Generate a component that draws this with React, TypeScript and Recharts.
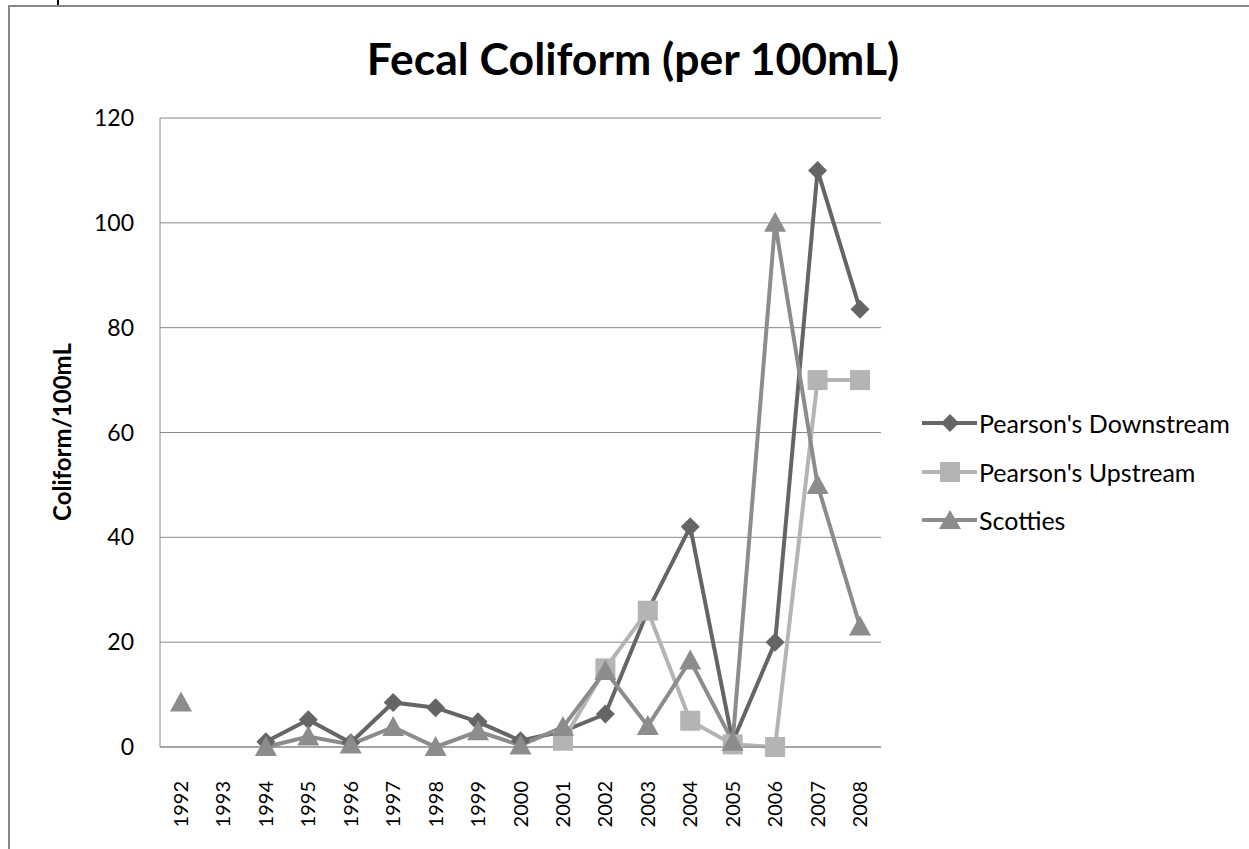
import React from "react";
import { LineChart, Line, XAxis, YAxis, CartesianGrid } from "recharts";

const years = ["1992","1993","1994","1995","1996","1997","1998","1999","2000","2001","2002","2003","2004","2005","2006","2007","2008"];
const downstream: (number | null)[] = [null, null, 1, 5.2, 0.8, 8.5, 7.5, 4.8, 1.2, 3, 6.3, 26, 42, 1, 20, 110, 83.5];
const upstream: (number | null)[] = [null, null, null, null, null, null, null, null, null, 1.2, 15, 26, 5, 0.5, 0, 70, 70];
const scotties: (number | null)[] = [8.5, null, 0, 2, 0.5, 3.8, 0, 3, 0.3, 3.8, 14.5, 4, 16.5, 1, 100, 50, 23];
const yTicks = [0, 20, 40, 60, 80, 100, 120];

const data = years.map((y, i) => ({
  year: y,
  down: downstream[i],
  up: upstream[i],
  scot: scotties[i],
}));

const C_DOWN = "#656565";
const C_UP = "#b4b4b4";
const C_SCOT = "#8c8c8c";
const FONT = "Lato, 'Open Sans', sans-serif";

const Diamond = (p: any) => {
  const { cx, cy, index } = p;
  if (cx == null || cy == null || p.value == null) return <g key={`d${index}`} />;
  const r = 9.5;
  return <path key={`d${index}`} d={`M${cx},${cy - r}L${cx + r},${cy}L${cx},${cy + r}L${cx - r},${cy}Z`} fill={C_DOWN} />;
};
const Square = (p: any) => {
  const { cx, cy, index } = p;
  if (cx == null || cy == null || p.value == null) return <g key={`s${index}`} />;
  const r = 10;
  return <rect key={`s${index}`} x={cx - r} y={cy - r} width={2 * r} height={2 * r} fill={C_UP} />;
};
const Triangle = (p: any) => {
  const { cx, cy, index } = p;
  if (cx == null || cy == null || p.value == null) return <g key={`t${index}`} />;
  return <path key={`t${index}`} d={`M${cx},${cy - 11}L${cx + 11},${cy + 9}L${cx - 11},${cy + 9}Z`} fill={C_SCOT} />;
};

const XTick = (props: any) => {
  const { x, y, payload } = props;
  return (
    <text x={0} y={0} transform={`translate(${x + 7},${y + 26}) rotate(-90)`} textAnchor="end" fontSize={20} fontFamily={FONT} fill="#000">
      {payload.value}
    </text>
  );
};

const legendItems = [
  { name: "Pearson's Downstream", color: C_DOWN, kind: "d" },
  { name: "Pearson's Upstream", color: C_UP, kind: "s" },
  { name: "Scotties", color: C_SCOT, kind: "t" },
];

const LegendBox = () => (
  <div style={{ position: "absolute", left: 920, top: 399, fontFamily: FONT, fontSize: 25, color: "#000" }}>
    {legendItems.map((it) => (
      <div key={it.name} style={{ display: "flex", alignItems: "center", height: 48.5 }}>
        <svg width={58} height={24} style={{ marginRight: 1, flex: "none" }}>
          <line x1={2} y1={12} x2={57} y2={12} stroke={it.color} strokeWidth={4} />
          {it.kind === "d" && <path d="M30,3L39,12L30,21L21,12Z" fill={it.color} />}
          {it.kind === "s" && <rect x={20} y={2} width={20} height={20} fill={it.color} />}
          {it.kind === "t" && <path d="M30,2L41,21L19,21Z" fill={it.color} />}
        </svg>
        <span style={{ whiteSpace: "nowrap" }}>{it.name}</span>
      </div>
    ))}
  </div>
);

export default function App() {
  return (
    <div style={{ position: "relative", width: 1249, height: 849, overflow: "hidden", background: "#fff" }}>
      <style>{`html,body{margin:0;padding:0;overflow:hidden;}`}</style>
      <div style={{ position: "absolute", left: 8, top: 5, right: -10, bottom: -10, borderLeft: "2px solid #888", borderTop: "2px solid #888" }} />
      <div style={{ position: "absolute", left: 57, top: 0, width: 2, height: 5, background: "#000" }} />
      <div style={{ position: "absolute", left: 0, top: 30, width: 1266, textAlign: "center", fontFamily: FONT, fontWeight: 700, fontSize: 44.5, lineHeight: "56px", color: "#000", whiteSpace: "nowrap" }}>
        Fecal Coliform (per 100mL)
      </div>
      <div style={{ position: "absolute", left: 62, top: 432, width: 0, height: 0 }}>
        <div style={{ position: "absolute", left: 0, top: 0, transform: "translate(-50%,-50%) rotate(-90deg)", whiteSpace: "nowrap", fontFamily: FONT, fontWeight: 700, fontSize: 24, lineHeight: "28px", color: "#000" }}>
          Coliform/100mL
        </div>
      </div>
      <div style={{ position: "absolute", left: 0, top: 0 }}>
        <LineChart width={1249} height={849} data={data} margin={{ top: 118, right: 368, bottom: 12, left: 0 }}>
          <CartesianGrid horizontal={true} vertical={false} stroke="#888" strokeWidth={1} />
          <XAxis
            dataKey="year"
            padding={{ left: 21, right: 21 }}
            tickLine={false}
            axisLine={{ stroke: "#888", strokeWidth: 1 }}
            height={90}
            interval={0}
            tick={<XTick />}
          />
          <YAxis
            width={160}
            domain={[0, 120]}
            ticks={yTicks}
            tickLine={false}
            tickSize={0}
            tickMargin={26}
            axisLine={{ stroke: "#888", strokeWidth: 1 }}
            tick={{ fontSize: 23, fontFamily: FONT, fill: "#000" }}
          />
          <Line dataKey="down" stroke={C_DOWN} strokeWidth={4} dot={Diamond} activeDot={false} isAnimationActive={false} connectNulls={false} />
          <Line dataKey="up" stroke={C_UP} strokeWidth={4} dot={Square} activeDot={false} isAnimationActive={false} connectNulls={false} />
          <Line dataKey="scot" stroke={C_SCOT} strokeWidth={4} dot={Triangle} activeDot={false} isAnimationActive={false} connectNulls={false} />
        </LineChart>
      </div>
      <LegendBox />
    </div>
  );
}
